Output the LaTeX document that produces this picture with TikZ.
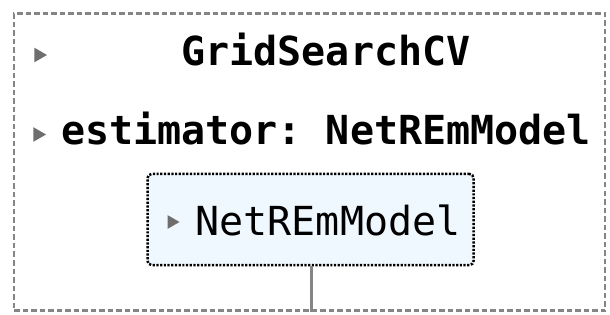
\documentclass[tikz,border=0pt]{standalone}
\usepackage{fontspec}
\setmonofont{DejaVu Sans Mono}
\usetikzlibrary{shapes.geometric}
\usetikzlibrary{positioning}
\definecolor{boxfill}{HTML}{F0F8FF}
\definecolor{framegray}{HTML}{858585}
\definecolor{togglegray}{HTML}{6E6E6E}

\begin{document}
\begin{tikzpicture}[x=1pt, y=-1pt,
    frame/.style = {draw=framegray, line width=2.6pt, dash pattern=on 5.5pt off 3pt,
        inner sep=0pt, minimum width=591pt, minimum height=297pt},
    estbox/.style = {draw=black, fill=boxfill, line width=2.5pt,
        dash pattern=on 2.2pt off 1.5pt, rounded corners=4pt,
        inner sep=0pt, minimum width=326pt, minimum height=91pt},
    toggle/.style = {regular polygon, regular polygon sides=3, shape border rotate=-90,
        fill=togglegray, inner sep=0pt, minimum size=17pt},
    headtext/.style = {inner sep=0pt, anchor=base, font=\ttfamily\bfseries\fontsize{40}{48}\selectfont},
    modeltext/.style = {inner sep=0pt, anchor=base, font=\ttfamily\fontsize{40}{48}\selectfont},
    stem/.style = {draw=framegray, line width=2.5pt}]
    \useasboundingbox (0,0) rectangle (610,315);
    % outer dashed container
    \node [frame] (outer) at (309.5,162) {};
    \node [toggle] (t1) at (38.5,55) {};
    \node [headtext] (title) at (326,66) {GridSearchCV};
    \node [toggle] (t2) at (37.5,134.5) {};
    \node [headtext] (est) at (326,145) {estimator: NetREmModel};
    % nested estimator
    \node [estbox] (model) at (310.5,219.5) {};
    \node [toggle, minimum size=16pt] (t3) at (171.5,222) {};
    \node [modeltext] (name) at (328,235) {NetREmModel};
    \draw [stem] (model.south -| 311.5,0) -- (311.5,0 |- outer.south);
\end{tikzpicture}
\end{document}
